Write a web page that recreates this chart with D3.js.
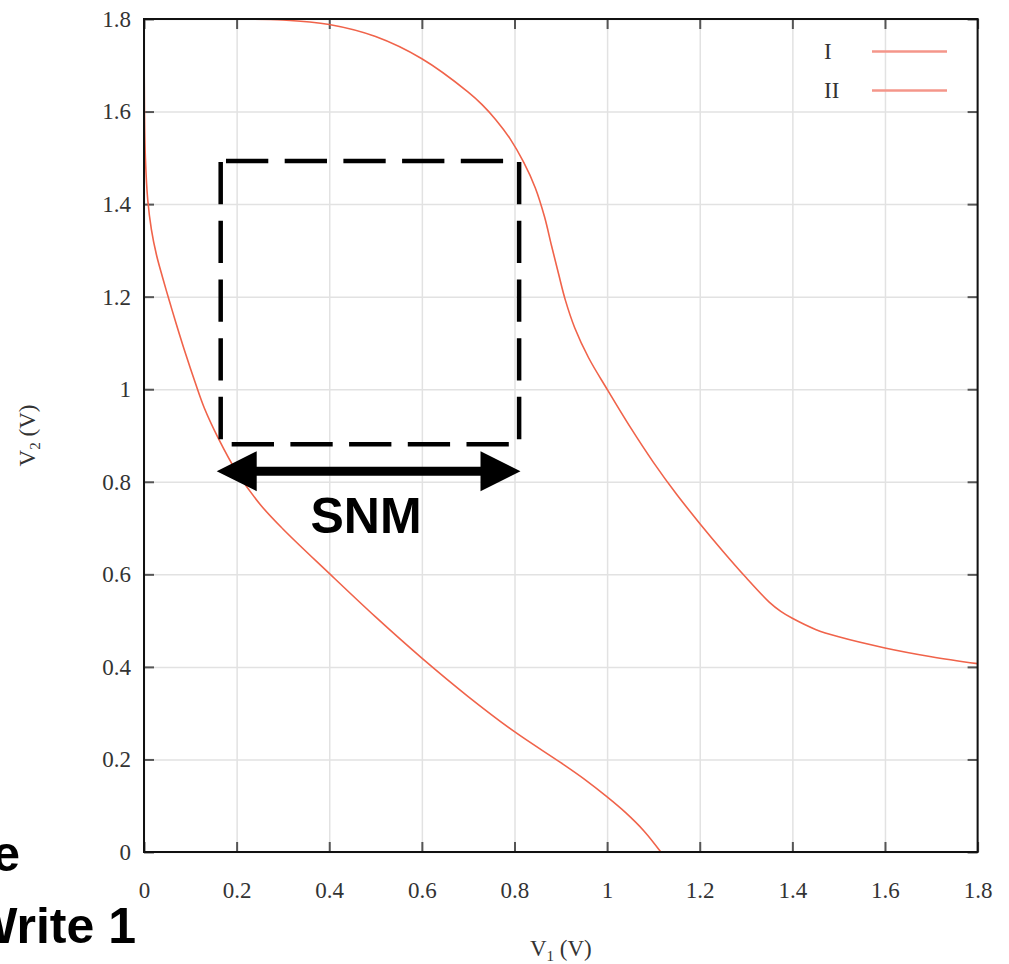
<!DOCTYPE html>
<html>
<head>
<meta charset="utf-8">
<script src="https://cdn.jsdelivr.net/npm/d3@7"></script>
<style>
  body { margin: 0; background: #fff; }
  svg { display: block; }
</style>
</head>
<body>
<svg id="snm"></svg>
<script>
// values
const tickValues = [0, 0.2, 0.4, 0.6, 0.8, 1, 1.2, 1.4, 1.6, 1.8]
const tickLabels = ['0', '0.2', '0.4', '0.6', '0.8', '1', '1.2', '1.4', '1.6', '1.8']
const seriesNames = ['I', 'II']

const curveI = [
  [0, 1.8], [0.2, 1.8], [0.3, 1.798], [0.4, 1.788], [0.5, 1.762], [0.6, 1.714],
  [0.7, 1.642], [0.73, 1.615], [0.76, 1.582], [0.79, 1.542], [0.82, 1.49],
  [0.845, 1.435], [0.865, 1.372], [0.88, 1.31], [0.895, 1.25], [0.91, 1.192],
  [0.93, 1.133], [0.96, 1.068], [1.0, 1.0], [1.05, 0.918], [1.1, 0.842],
  [1.15, 0.773], [1.2, 0.71], [1.25, 0.65], [1.3, 0.593], [1.35, 0.54],
  [1.375, 0.52], [1.4, 0.505], [1.45, 0.481], [1.5, 0.465], [1.6, 0.441],
  [1.7, 0.422], [1.8, 0.407]
]
const curveII = [
  [0, 1.8], [0.001, 1.6], [0.003, 1.5], [0.008, 1.41], [0.016, 1.345],
  [0.027, 1.29], [0.04, 1.242], [0.055, 1.19], [0.07, 1.14], [0.09, 1.076],
  [0.11, 1.016], [0.13, 0.96], [0.16, 0.895], [0.2, 0.822], [0.25, 0.752],
  [0.3, 0.698], [0.4, 0.602], [0.5, 0.508], [0.6, 0.419], [0.7, 0.336],
  [0.8, 0.26], [0.9, 0.193], [0.95, 0.158], [1.0, 0.119], [1.04, 0.085],
  [1.08, 0.045], [1.116, 0]
]

// SNM square + arrow annotation (data units)
const boxX = [0.1656, 0.81]
const boxY = [0.881, 1.493]
const arrowX = [0.157, 0.813]
const arrowY = 0.823

const width = 1009
const height = 964
const plotL = 144, plotR = 977.6, plotT = 19, plotB = 852

const svg = d3.select('#snm')
  .attr('width', width)
  .attr('height', height)

const x = d3.scaleLinear().domain([0, 1.8]).range([plotL, plotR])
const y = d3.scaleLinear().domain([0, 1.8]).range([plotB, plotT])

const serif = '"Liberation Serif", "DejaVu Serif", serif'
const sans = '"Liberation Sans", Arial, sans-serif'

// grid
svg.append('g')
  .attr('transform', `translate(0,${plotB})`)
  .call(d3.axisBottom(x).tickValues(tickValues).tickSize(-(plotB - plotT)).tickFormat(''))
  .call(g => g.select('.domain').remove())
  .call(g => g.selectAll('line').attr('stroke', '#e2e2e2').attr('stroke-width', 1.5))
svg.append('g')
  .attr('transform', `translate(${plotL},0)`)
  .call(d3.axisLeft(y).tickValues(tickValues).tickSize(-(plotR - plotL)).tickFormat(''))
  .call(g => g.select('.domain').remove())
  .call(g => g.selectAll('line').attr('stroke', '#e2e2e2').attr('stroke-width', 1.5))

// inner ticks on all four sides
function styleTicks(g) {
  g.select('.domain').remove()
  g.selectAll('line').attr('stroke', '#555').attr('stroke-width', 2)
  g.selectAll('text').attr('font-family', serif).attr('font-size', 23).attr('fill', '#333')
}
svg.append('g')
  .attr('transform', `translate(0,${plotB})`)
  .call(d3.axisBottom(x).tickValues(tickValues).tickSize(-10).tickPadding(30)
    .tickFormat((d, i) => tickLabels[i]))
  .call(styleTicks)
svg.append('g')
  .attr('transform', `translate(${plotL},0)`)
  .call(d3.axisLeft(y).tickValues(tickValues).tickSize(-10).tickPadding(13)
    .tickFormat((d, i) => tickLabels[i]))
  .call(styleTicks)
svg.append('g')
  .attr('transform', `translate(0,${plotT})`)
  .call(d3.axisTop(x).tickValues(tickValues).tickSize(-10).tickFormat(''))
  .call(styleTicks)
svg.append('g')
  .attr('transform', `translate(${plotR},0)`)
  .call(d3.axisRight(y).tickValues(tickValues).tickSize(-10).tickFormat(''))
  .call(styleTicks)

// curves
const line = d3.line()
  .x(d => x(d[0]))
  .y(d => y(d[1]))
  .curve(d3.curveCatmullRom.alpha(0.5))

svg.append('g')
  .selectAll('path')
  .data([curveI, curveII])
  .enter().append('path')
  .attr('d', line)
  .attr('fill', 'none')
  .attr('stroke', '#f0634a')
  .attr('stroke-width', 1.6)

// border
svg.append('rect')
  .attr('x', plotL).attr('y', plotT)
  .attr('width', plotR - plotL).attr('height', plotB - plotT)
  .attr('fill', 'none')
  .attr('stroke', '#111')
  .attr('stroke-width', 2)

// legend
const legend = svg.append('g')
  .selectAll('g')
  .data(seriesNames)
  .enter().append('g')
  .attr('transform', (d, i) => `translate(0,${51.5 + i * 39})`)
legend.append('text')
  .attr('x', 824)
  .attr('dy', '0.33em')
  .attr('font-family', serif)
  .attr('font-size', 23)
  .attr('fill', '#333')
  .text(d => d)
legend.append('line')
  .attr('x1', 872).attr('x2', 947)
  .attr('stroke', '#f4968a')
  .attr('stroke-width', 2.5)

// axis titles
const xt = svg.append('text')
  .attr('x', (plotL + plotR) / 2)
  .attr('y', 956)
  .attr('text-anchor', 'middle')
  .attr('font-family', serif)
  .attr('font-size', 23)
  .attr('fill', '#333')
xt.append('tspan').text('V')
xt.append('tspan').attr('font-size', 15).attr('dy', 5).text('1')
xt.append('tspan').attr('dy', -5).text(' (V)')

const yt = svg.append('text')
  .attr('transform', `translate(35,${(plotT + plotB) / 2}) rotate(-90)`)
  .attr('text-anchor', 'middle')
  .attr('font-family', serif)
  .attr('font-size', 23)
  .attr('fill', '#333')
yt.append('tspan').text('V')
yt.append('tspan').attr('font-size', 15).attr('dy', 5).text('2')
yt.append('tspan').attr('dy', -5).text(' (V)')

// dashed SNM square
const dash = '42.3,16.4'
const box = svg.append('g')
  .attr('stroke', '#000')
  .attr('stroke-width', 4.5)
  .attr('stroke-dasharray', dash)
box.append('line')
  .attr('x1', x(boxX[0])).attr('x2', x(boxX[1]))
  .attr('y1', y(boxY[1])).attr('y2', y(boxY[1]))
  .attr('stroke-dashoffset', 53.4)
box.append('line')
  .attr('x1', x(boxX[0])).attr('x2', x(boxX[1]))
  .attr('y1', y(boxY[0])).attr('y2', y(boxY[0]))
  .attr('stroke-dashoffset', 47.7)
box.selectAll('.side')
  .data(boxX)
  .enter().append('line')
  .attr('class', 'side')
  .attr('x1', d => x(d)).attr('x2', d => x(d))
  .attr('y1', y(boxY[1])).attr('y2', y(boxY[0]))
  .attr('stroke-dashoffset', 57.7)

// double arrow
const ax0 = x(arrowX[0]), ax1 = x(arrowX[1]), ay = y(arrowY)
const head = 40, half = 20
svg.append('line')
  .attr('x1', ax0 + head - 2).attr('x2', ax1 - head + 2)
  .attr('y1', ay).attr('y2', ay)
  .attr('stroke', '#000')
  .attr('stroke-width', 9)
svg.append('path')
  .attr('d', `M${ax0},${ay}L${ax0 + head},${ay - half}L${ax0 + head},${ay + half}Z` +
    `M${ax1},${ay}L${ax1 - head},${ay - half}L${ax1 - head},${ay + half}Z`)
  .attr('fill', '#000')

svg.append('text')
  .attr('x', 366)
  .attr('y', 533)
  .attr('text-anchor', 'middle')
  .attr('font-family', sans)
  .attr('font-weight', 'bold')
  .attr('font-size', 50)
  .attr('fill', '#000')
  .text('SNM')

// slide text cut off at the left edge (as in the source slide)
svg.append('text')
  .attr('x', 20)
  .attr('y', 871)
  .attr('text-anchor', 'end')
  .attr('font-family', sans)
  .attr('font-weight', 'bold')
  .attr('font-size', 50)
  .text('e')
svg.append('text')
  .attr('x', 136)
  .attr('y', 943)
  .attr('text-anchor', 'end')
  .attr('font-family', sans)
  .attr('font-weight', 'bold')
  .attr('font-size', 50)
  .text('Write 1')
</script>
</body>
</html>
